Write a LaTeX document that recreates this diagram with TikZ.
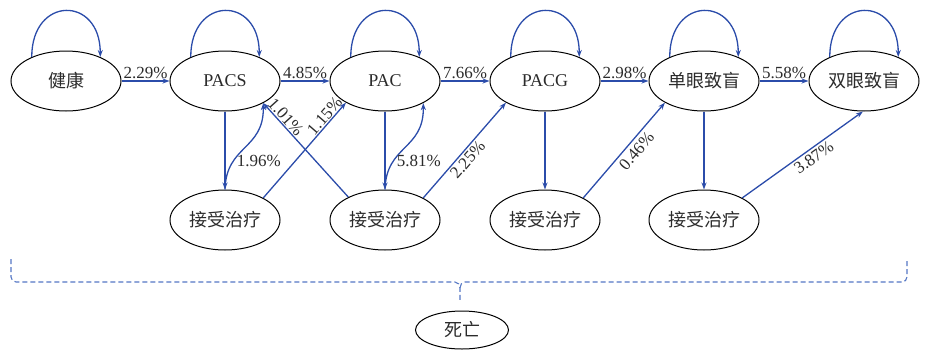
\documentclass[tikz,border=0pt]{standalone}
\usepackage{fontspec}
\setmainfont{Liberation Serif}
\newfontfamily\cjk{Noto Sans CJK SC}
\usetikzlibrary{shapes.geometric,arrows.meta}
\definecolor{lnblue}{HTML}{2B4CAA}
\definecolor{dashblue}{HTML}{5577C4}
\definecolor{txt}{HTML}{2B2B2B}
\begin{document}
\begin{tikzpicture}[x=1pt,y=-1pt,
  st/.style={ellipse,draw=black,line width=1pt,minimum width=110pt,minimum height=60pt,inner sep=0pt,text=txt,font=\fontsize{18}{18}\selectfont},
  arr/.style={draw=lnblue,line width=1.3pt,-{Stealth[length=7pt,width=5pt]}},
  rarr/.style={draw=lnblue,line width=1.3pt,{Stealth[length=7pt,width=5pt]}-},
  lbl/.style={text=txt,font=\fontsize{17}{17}\selectfont,inner sep=1pt},
  brace/.style={draw=dashblue,line width=1.1pt,dash pattern=on 5pt off 3pt}]
\useasboundingbox (0,0) rectangle (927,349);
% top row
\node[st] (h) at (66,81) {\cjk 健康};
\node[st] (pacs) at (225,81) {PACS};
\node[st] (pac) at (385,81) {PAC};
\node[st] (pacg) at (545,81) {PACG};
\node[st] (mono) at (704,81) {\cjk 单眼致盲};
\node[st] (bino) at (864,81) {\cjk 双眼致盲};
% bottom row
\node[st] (t1) at (225,220) {\cjk 接受治疗};
\node[st] (t2) at (385,220) {\cjk 接受治疗};
\node[st] (t3) at (545,220) {\cjk 接受治疗};
\node[st] (t4) at (704,220) {\cjk 接受治疗};
\node[st,minimum width=93pt,minimum height=38pt] (d) at (462,330) {\cjk 死亡};
% self loops
\foreach \n in {h,pacs,pac,pacg,mono,bino}
  \draw[arr] (\n.145) to[out=90,in=90,looseness=2.3] (\n.35);
% horizontal transitions
\draw[arr] (h) -- (pacs) node[lbl,midway,above,yshift=1pt]{2.29\%};
\draw[arr] (pacs) -- (pac) node[lbl,midway,above,yshift=1pt]{4.85\%};
\draw[arr] (pac) -- (pacg) node[lbl,midway,above,yshift=1pt]{7.66\%};
\draw[arr] (pacg) -- (mono) node[lbl,midway,above,yshift=1pt]{2.98\%};
\draw[arr] (mono) -- (bino) node[lbl,midway,above,yshift=1pt]{5.58\%};
% to treatment
\draw[arr] (pacs) -- (t1);
\draw[arr] (pac) -- (t2);
\draw[arr] (pacg) -- (t3);
\draw[arr] (mono) -- (t4);
% back curves
\draw[arr] (t1.north) .. controls (226,145) and (264,150) .. (pacs.-30)
  node[lbl,pos=0.5,xshift=14pt,yshift=-14pt]{1.96\%};
\draw[arr] (t2.north) .. controls (386,145) and (424,150) .. (pac.-30)
  node[lbl,pos=0.5,xshift=14pt,yshift=-14pt]{5.81\%};
% diagonals
\draw[arr] (t1.30) -- (pac.209) node[lbl,sloped,above,pos=0.81]{1.15\%};
\draw[rarr] (pacs.-30) -- (t2.148) node[lbl,sloped,above,pos=0.2]{1.01\%};
\draw[arr] (t2.30) -- (pacg.209) node[lbl,sloped,below,pos=0.46,inner sep=2pt]{2.25\%};
\draw[arr] (t3.30) -- (mono.209) node[lbl,sloped,below,pos=0.56,inner sep=3.5pt]{0.46\%};
\draw[arr] (t4.30) -- (bino.268) node[lbl,sloped,below,pos=0.55,inner sep=2.5pt]{3.87\%};
% death brace
\coordinate (bl) at (11,259);
\coordinate (br) at (907,259);
\coordinate (bm) at (460,288);
\coordinate (bt) at (460,302);
\draw[brace] (bl) -- (11,277) to[out=-90,in=180] (16,282) -- (455,282) to[out=0,in=90] (bm) -- (bt);
\draw[brace] (bm) to[out=90,in=180] (465,282) -- (902,282) to[out=0,in=-90] (907,277) -- (br);
\end{tikzpicture}
\end{document}
